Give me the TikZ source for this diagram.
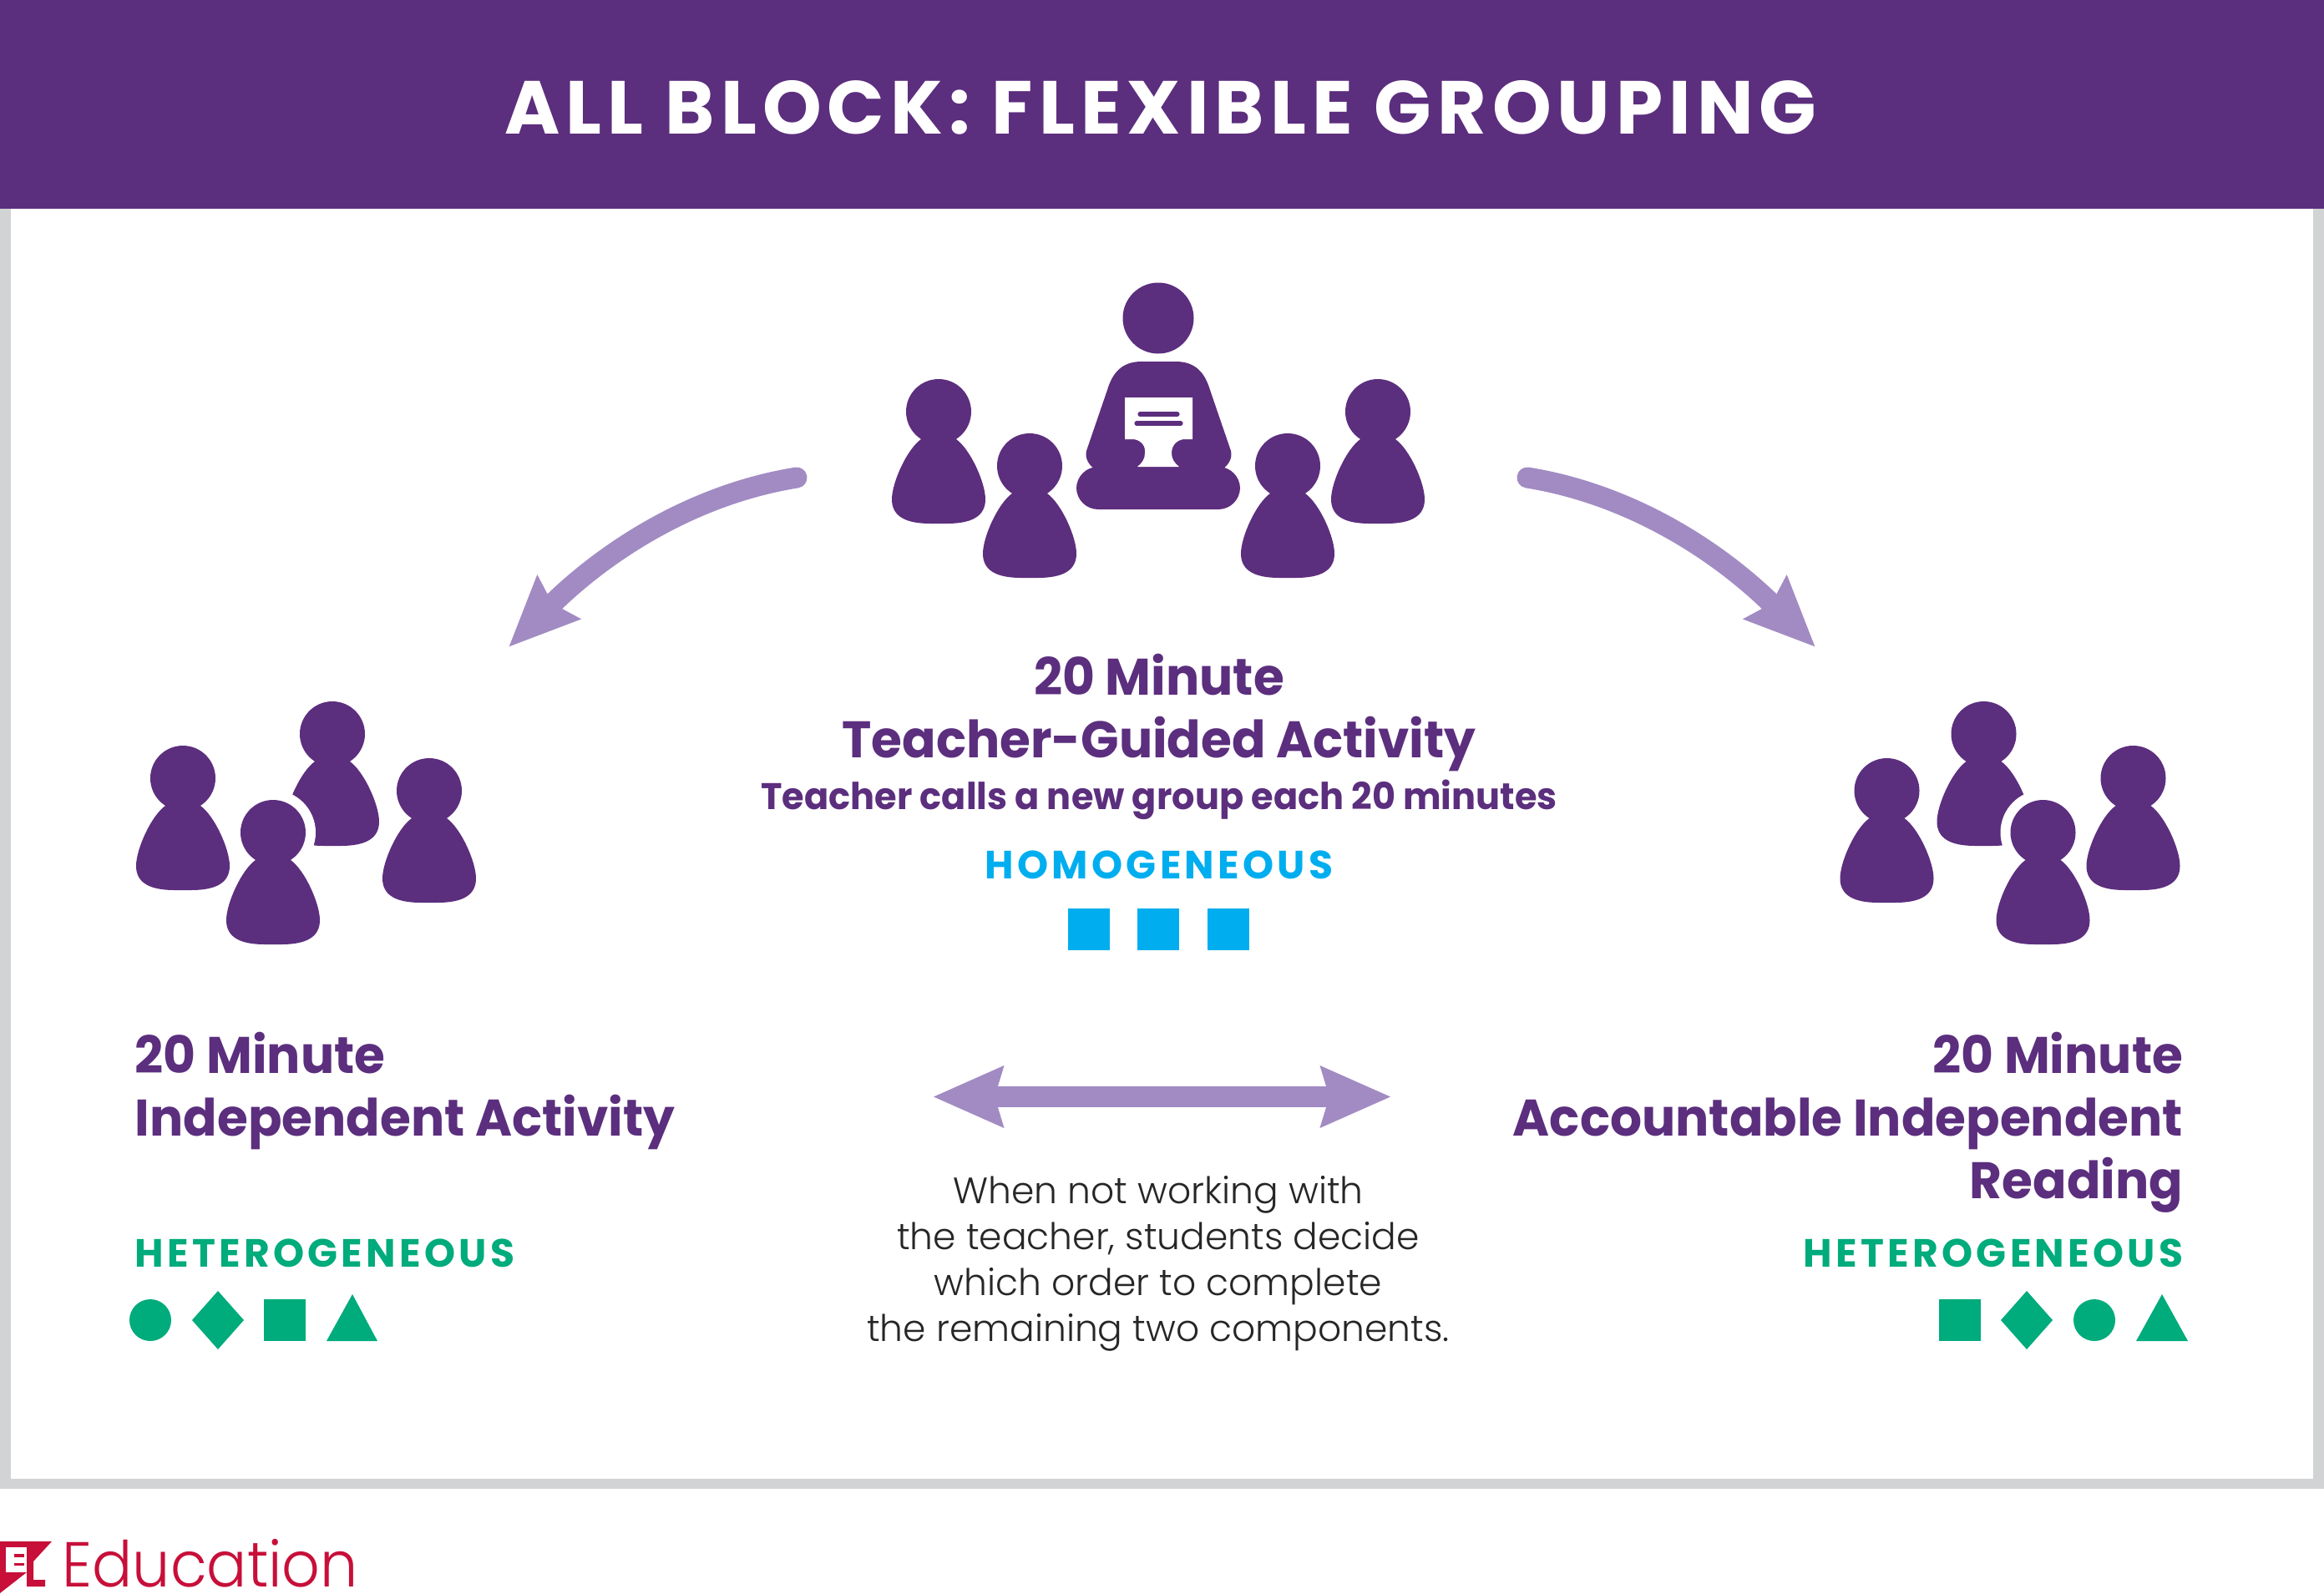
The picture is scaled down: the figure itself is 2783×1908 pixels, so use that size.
\documentclass[tikz,border=0pt]{standalone}
\usepackage{fontspec}
\usetikzlibrary{arrows.meta}
\newfontfamily\titlefont{Poppins}[UprightFont=* Bold,LetterSpace=7.8]
\newfontfamily\headfont{Poppins}[UprightFont=* Bold,FakeStretch=0.97]
\newfontfamily\capsfont{Poppins}[UprightFont=* Bold,LetterSpace=9]
\newfontfamily\bodyfont{Poppins}[UprightFont=* Light]
\newfontfamily\logofont{Poppins}[UprightFont=* Light,FakeStretch=0.94]
\definecolor{groupPurple}{HTML}{5C2E7E}
\definecolor{arrowLilac}{HTML}{A28BC3}
\definecolor{hetGreen}{HTML}{00AB7C}
\definecolor{homBlue}{HTML}{00AEEF}
\definecolor{frameGray}{HTML}{D1D3D4}
\definecolor{logoRed}{HTML}{C70F39}
\tikzset{
  px/.style={x=0.25pt,y=-0.25pt},
  pawn/.pic={
    \fill[groupPurple] (0,0) circle (39);
    \fill[groupPurple] (-21,33) .. controls (-38,45) and (-56,85) .. (-56,105)
      .. controls (-56,125) and (-40,134) .. (-10,134) -- (10,134)
      .. controls (40,134) and (56,125) .. (56,105)
      .. controls (56,85) and (38,45) .. (21,33) -- cycle;
  },
  head/.style={font=\headfont\fontsize{15.4pt}{18pt}\selectfont,text=groupPurple,inner sep=0pt},
  tag/.style={font=\capsfont\fontsize{11.8pt}{14pt}\selectfont,inner sep=0pt},
  bodyline/.style={font=\bodyfont\fontsize{11pt}{13pt}\selectfont,text=black!85,inner sep=0pt,anchor=base},
  flowarrow/.style={arrowLilac,line width=6.25pt,line cap=round,
    -{Stealth[length=20.75pt,width=17.5pt,inset=2.25pt]}},
}
\begin{document}
\begin{tikzpicture}[px]
  \useasboundingbox (0,0) rectangle (2783,1908);
  \fill[frameGray] (0,240) rectangle (2783,1783);
  \fill[white] (13,240) rectangle (2770,1771);
  \fill[groupPurple] (0,0) rectangle (2783,250);
  \node[anchor=base,inner sep=0pt,text=white,font=\titlefont\fontsize{22.5pt}{26pt}\selectfont] (title) at (1390,160) {ALL BLOCK: FLEXIBLE GROUPING};

  % teacher and the guided group
  \fill[groupPurple] (1387,381) circle (42.5);
  \fill[groupPurple] (1367,433) -- (1408,433) .. controls (1432,433) and (1443,447) .. (1449,467) -- (1474,540)
    .. controls (1476,548) and (1472,556) .. (1464,562) -- (1311,562) .. controls (1303,556) and (1299,548) .. (1301,540)
    -- (1326,467) .. controls (1332,447) and (1343,433) .. (1367,433) -- cycle;
  \fill[groupPurple,rounded corners=6.5pt] (1289,559) rectangle (1485,610);
  \fill[white] (1347,476) -- (1428,476) -- (1428,526) -- (1417,526) .. controls (1407,528) and (1403,535) .. (1403,543)
    .. controls (1403,550) and (1407,555) .. (1412,559) -- (1362,559) .. controls (1367,555) and (1371,550) .. (1371,543)
    .. controls (1372,535) and (1368,528) .. (1358,526) -- (1347,526) -- cycle;
  \draw[groupPurple,line width=1.3pt,line cap=round] (1365,496) -- (1410,496);
  \draw[groupPurple,line width=1.3pt,line cap=round] (1361,507) -- (1414,507);
  \foreach \gx/\gy in {1124/493,1233/558,1542/558,1650/493}
    \pic at (\gx,\gy) {pawn};

  % left group
  \pic at (398,879) {pawn};
  \fill[white] (327,997) circle (51);
  \foreach \gx/\gy in {219/932,327/997,514/947}
    \pic at (\gx,\gy) {pawn};

  % right group
  \pic at (2375.5,879) {pawn};
  \fill[white] (2446.5,997) circle (51);
  \foreach \gx/\gy in {2554.5/932,2446.5/997,2259.5/947}
    \pic at (\gx,\gy) {pawn};

  % arrows
  \coordinate (leftStart) at (954,572);
  \coordinate (leftEnd) at (609,775);
  \coordinate (rightStart) at (1829,572);
  \coordinate (rightEnd) at (2174,775);
  \coordinate (bothLeft) at (1117,1313.5);
  \coordinate (bothRight) at (1666,1313.5);
  \draw[flowarrow] (leftStart) .. controls (830,592) and (725,660) .. (leftEnd);
  \draw[flowarrow] (rightStart) .. controls (1953,592) and (2058,660) .. (rightEnd);
  \draw[flowarrow,line cap=butt,{Stealth[length=20.75pt,width=17.5pt,inset=2.25pt]}-{Stealth[length=20.75pt,width=17.5pt,inset=2.25pt]}] (bothLeft) -- (bothRight);

  % middle texts
  \node[head,anchor=base] (midTime) at (1388,832) {20 Minute};
  \node[head,anchor=base] (midName) at (1388,907) {Teacher-Guided Activity};
  \node[head,anchor=base,font=\headfont\fontsize{11.1pt}{14pt}\selectfont] (midNote) at (1388,969) {Teacher calls a new group each 20 minutes};
  \node[tag,anchor=base,text=homBlue] (midTag) at (1388,1052) {HOMOGENEOUS};
  \foreach \sx in {1279,1362,1446}
    \fill[homBlue] (\sx,1088) rectangle +(50,50);

  % left texts
  \node[head,anchor=base west] (leftTime) at (161,1285) {20 Minute};
  \node[head,anchor=base west] (leftName) at (161,1360) {Independent Activity};
  \node[tag,anchor=base west,text=hetGreen] (leftTag) at (161,1517) {HETEROGENEOUS};
  \fill[hetGreen] (180,1581) circle (25);
  \fill[hetGreen] (261,1546) -- (292,1581) -- (261,1616) -- (230,1581) -- cycle;
  \fill[hetGreen] (316,1556) rectangle (366,1606);
  \fill[hetGreen] (422,1550) -- (452,1606) -- (391,1606) -- cycle;

  % right texts
  \node[head,anchor=base east] (rightTime) at (2615,1285) {20 Minute};
  \node[head,anchor=base east] (rightName) at (2615,1360) {Accountable Independent};
  \node[head,anchor=base east] (rightRead) at (2615,1435) {Reading};
  \node[tag,anchor=base east,text=hetGreen] (rightTag) at (2615,1517) {HETEROGENEOUS};
  \fill[hetGreen] (2322,1556) rectangle (2372,1606);
  \fill[hetGreen] (2427,1546) -- (2458,1581) -- (2427,1616) -- (2396,1581) -- cycle;
  \fill[hetGreen] (2508,1581) circle (25);
  \fill[hetGreen] (2589,1550) -- (2620,1606) -- (2558,1606) -- cycle;

  % how to choose
  \node[bodyline] (chooseA) at (1387,1441) {When not working with};
  \node[bodyline] (chooseB) at (1387,1496) {the teacher, students decide};
  \node[bodyline] (chooseC) at (1387,1551) {which order to complete};
  \node[bodyline] (chooseD) at (1387,1606) {the remaining two components.};

  % logo
  \fill[logoRed] (0,1846) -- (62,1846) -- (40,1870) -- (40,1892) -- (54,1892) -- (54,1900) -- (32,1900) -- (32,1883) -- (0,1908) -- cycle;
  \fill[white] (7,1853) rectangle (32,1883);
  \fill[logoRed] (17,1861) rectangle (29,1865);
  \fill[logoRed] (17,1872) rectangle (29,1875);
  \node[anchor=base west,inner sep=0pt,text=logoRed,font=\logofont\fontsize{19pt}{22pt}\selectfont] (logoText) at (74,1900) {Education};
\end{tikzpicture}
\end{document}
